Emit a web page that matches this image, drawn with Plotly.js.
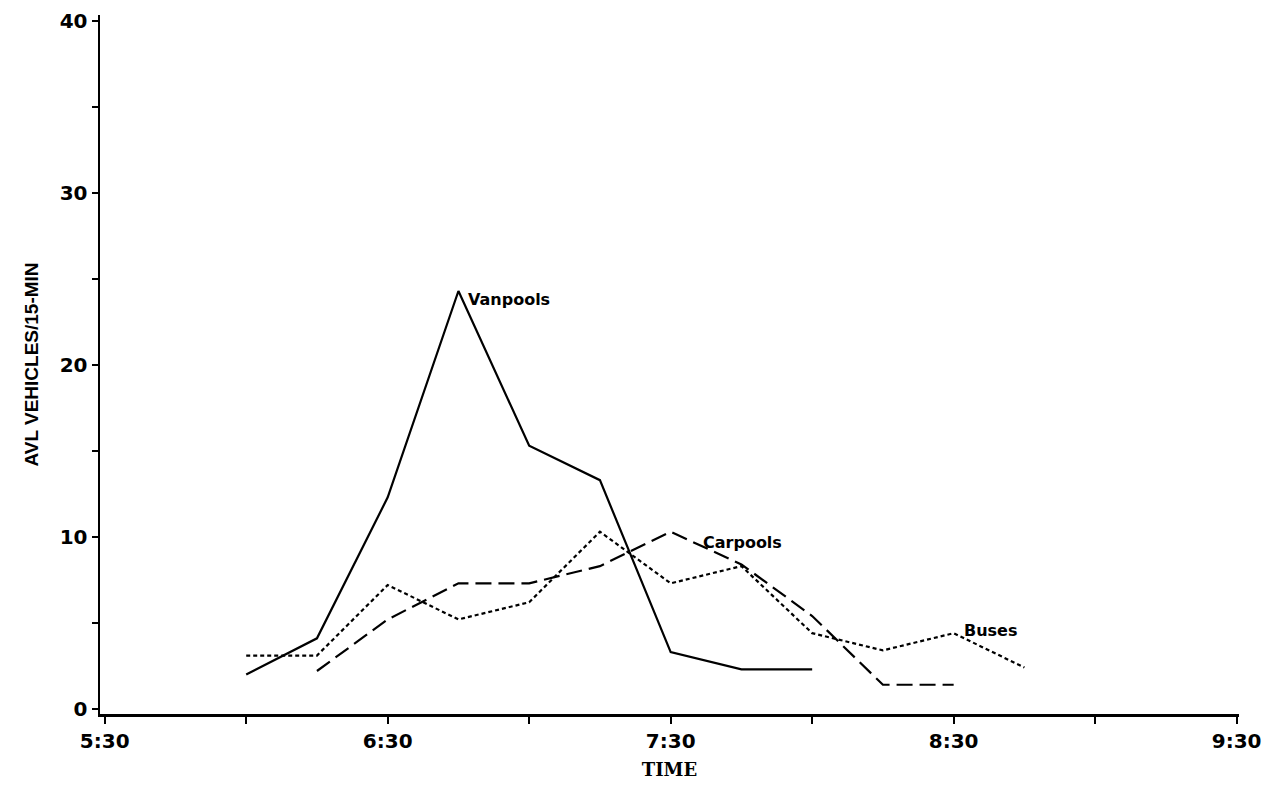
<!DOCTYPE html>
<html>
<head>
<meta charset="utf-8">
<script src="https://cdn.plot.ly/plotly-3.0.1.min.js"></script>
<style>html,body{margin:0;padding:0;background:#fff;}#chart{width:1278px;height:785px;}</style>
</head>
<body>
<div id="chart"></div>
<script>
// Data
const vanTimes = ['6:00','6:15','6:30','6:45','7:00','7:15','7:30','7:45','8:00'];
const vanpools = [2.0, 4.1, 12.3, 24.3, 15.3, 13.3, 3.3, 2.3, 2.3];

const carTimes = ['6:15','6:30','6:45','7:00','7:15','7:30','7:45','8:00','8:15','8:30'];
const carpools = [2.2, 5.2, 7.3, 7.3, 8.3, 10.3, 8.4, 5.4, 1.4, 1.4];

const busTimes = ['6:00','6:15','6:30','6:45','7:00','7:15','7:30','7:45','8:00','8:15','8:30','8:45'];
const buses = [3.1, 3.1, 7.2, 5.2, 6.2, 10.3, 7.3, 8.3, 4.4, 3.4, 4.4, 2.4];

const xTickLabels = ['5:30','6:30','7:30','8:30','9:30'];
const yTickVals = [0, 10, 20, 30, 40];

function toMin(t){ const p = t.split(':'); return (+p[0])*60 + (+p[1]); }

const traces = [
  {x: vanTimes.map(toMin), y: vanpools, mode: 'lines', name: 'Vanpools',
   line: {color: '#000', width: 2.2}},
  {x: carTimes.map(toMin), y: carpools, mode: 'lines', name: 'Carpools',
   line: {color: '#000', width: 2.2, dash: '16px,7px'}},
  {x: busTimes.map(toMin), y: buses, mode: 'lines', name: 'Buses',
   line: {color: '#000', width: 2.2, dash: '4px,3px'}}
];

const labelFont = {family: 'DejaVu Sans, sans-serif', size: 16, color: '#000', weight: 'bold'};

const layout = {
  width: 1278, height: 785,
  margin: {l: 100, r: 39, t: 15, b: 71},
  paper_bgcolor: '#fff', plot_bgcolor: '#fff',
  showlegend: false,
  xaxis: {
    range: [329, 570.5],
    tickmode: 'array',
    tickvals: xTickLabels.map(toMin),
    ticktext: xTickLabels,
    ticks: 'outside', ticklen: 7, tickwidth: 2, tickcolor: '#000',
    minor: {tickmode: 'linear', tick0: 330, dtick: 30, ticks: 'outside', ticklen: 7, tickwidth: 2, tickcolor: '#000', showgrid: false},
    showgrid: false, zeroline: false,
    showline: true, linecolor: '#000', linewidth: 3,
    tickfont: {family: 'DejaVu Sans, sans-serif', size: 20, color: '#000', weight: 'bold'},
    title: {text: 'TIME', font: {family: 'DejaVu Serif, serif', size: 18, color: '#000', weight: 'bold'}, standoff: 12}
  },
  yaxis: {
    range: [-0.3, 40.35],
    tickmode: 'array',
    tickvals: yTickVals,
    ticks: 'outside', ticklen: 6, tickwidth: 2, tickcolor: '#000',
    minor: {tickmode: 'linear', tick0: 0, dtick: 5, ticks: 'outside', ticklen: 6, tickwidth: 2, tickcolor: '#000', showgrid: false},
    showgrid: false, zeroline: false,
    showline: true, linecolor: '#000', linewidth: 2.5,
    tickfont: {family: 'DejaVu Sans, sans-serif', size: 20, color: '#000', weight: 'bold'},
    title: {text: 'AVL VEHICLES/15-MIN', font: {family: 'Liberation Sans Narrow, Liberation Sans, sans-serif', size: 19, color: '#000', weight: 'bold'}, standoff: 16}
  },
  annotations: [
    {x: 406.5, y: 23.8, text: 'Vanpools', showarrow: false, xanchor: 'left', yanchor: 'middle', font: labelFont},
    {x: 456.5, y: 9.65, text: 'Carpools', showarrow: false, xanchor: 'left', yanchor: 'middle', font: labelFont},
    {x: 511.7, y: 4.55, text: 'Buses', showarrow: false, xanchor: 'left', yanchor: 'middle', font: labelFont}
  ]
};

Plotly.newPlot('chart', traces, layout, {displayModeBar: false, staticPlot: true});
</script>
</body>
</html>
